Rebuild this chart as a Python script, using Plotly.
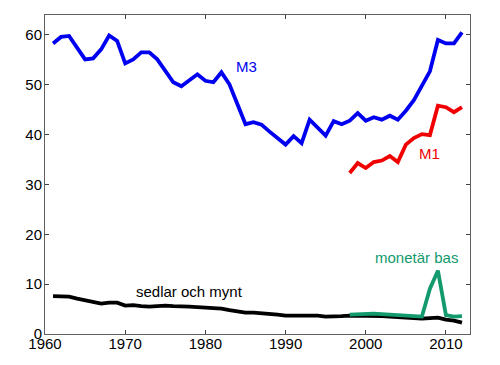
import plotly.graph_objects as go

years_m3 = list(range(1961, 2013))
m3 = [58.3, 59.6, 59.8, 57.4, 55.1, 55.3, 57.1, 59.9, 58.8, 54.3,
      55.1, 56.5, 56.5, 55.1, 52.8, 50.5, 49.7, 51.0, 52.1, 50.8,
      50.5, 52.5, 50.1, 46.1, 42.1, 42.5, 42.0, 40.6, 39.3, 38.0,
      39.7, 38.3, 43.0, 41.5, 39.8, 42.7, 42.1, 42.8, 44.3, 42.8,
      43.5, 43.0, 43.8, 43.0, 44.8, 46.9, 49.8, 52.7, 59.0, 58.3,
      58.3, 60.5]

years_m1 = list(range(1998, 2013))
m1 = [32.3, 34.3, 33.3, 34.5, 34.8, 35.7, 34.5, 38.0, 39.3, 40.1,
      39.9, 45.8, 45.5, 44.5, 45.5]

years_sm = list(range(1961, 2013))
sedlar = [7.6, 7.5, 7.5, 7.1, 6.8, 6.5, 6.1, 6.3, 6.3, 5.7,
          5.8, 5.6, 5.5, 5.6, 5.7, 5.6, 5.6, 5.5, 5.4, 5.3,
          5.2, 5.1, 4.8, 4.5, 4.3, 4.3, 4.2, 4.0, 3.9, 3.7,
          3.7, 3.7, 3.8, 3.7, 3.5, 3.5, 3.6, 3.7, 3.7, 3.6,
          3.7, 3.6, 3.5, 3.4, 3.3, 3.1, 3.1, 3.2, 3.3, 2.9,
          2.7, 2.3]

years_mb = list(range(1998, 2013))
monetar = [3.9, 4.0, 4.0, 4.1, 4.0, 3.9, 3.9, 3.8, 3.7, 3.5,
           9.1, 12.7, 3.8, 3.5, 3.6]

xticks = [1960, 1970, 1980, 1990, 2000, 2010]
yticks = [0, 10, 20, 30, 40, 50, 60]

blue = "#0000F0"
red = "#F00000"
green = "#129A6E"
black = "#000000"

fig = go.Figure()
fig.add_trace(go.Scatter(x=years_sm, y=sedlar, mode="lines", line=dict(color=black, width=3.8)))
fig.add_trace(go.Scatter(x=years_mb, y=monetar, mode="lines", line=dict(color=green, width=3.8)))
fig.add_trace(go.Scatter(x=years_m1, y=m1, mode="lines", line=dict(color=red, width=3.8)))
fig.add_trace(go.Scatter(x=years_m3, y=m3, mode="lines", line=dict(color=blue, width=3.8)))

font = dict(family="Liberation Sans, Arial, sans-serif", size=15)
fig.add_annotation(x=1985.1, y=53.6, text="M3", showarrow=False, font=dict(font, color=blue))
fig.add_annotation(x=2007.9, y=36.2, text="M1", showarrow=False, font=dict(font, color=red))
fig.add_annotation(x=1978.0, y=8.6, text="sedlar och mynt", showarrow=False, font=dict(font, color=black))
fig.add_annotation(x=2006.3, y=15.4, text="monetär bas", showarrow=False, font=dict(font, color=green))

axis_common = dict(showgrid=False, zeroline=False, showline=True, linecolor="#606060",
                   linewidth=1, mirror="ticks", ticks="inside", ticklen=4,
                   tickcolor="#404040", tickfont=dict(font, color="black"),
                   automargin=False)
fig.update_xaxes(range=[1960, 2013], tickvals=xticks, ticklabelstandoff=-4, **axis_common)
fig.update_yaxes(range=[0, 64], tickvals=yticks, ticklabelstandoff=-1, **axis_common)

# page body has an 8px margin; compensate so the plot box lands where the reference has it
fig.update_layout(width=500, height=365, showlegend=False,
                  margin=dict(l=37, r=38, t=7, b=39),
                  plot_bgcolor="white", paper_bgcolor="white", font=font)

fig.write_html("out.html")
